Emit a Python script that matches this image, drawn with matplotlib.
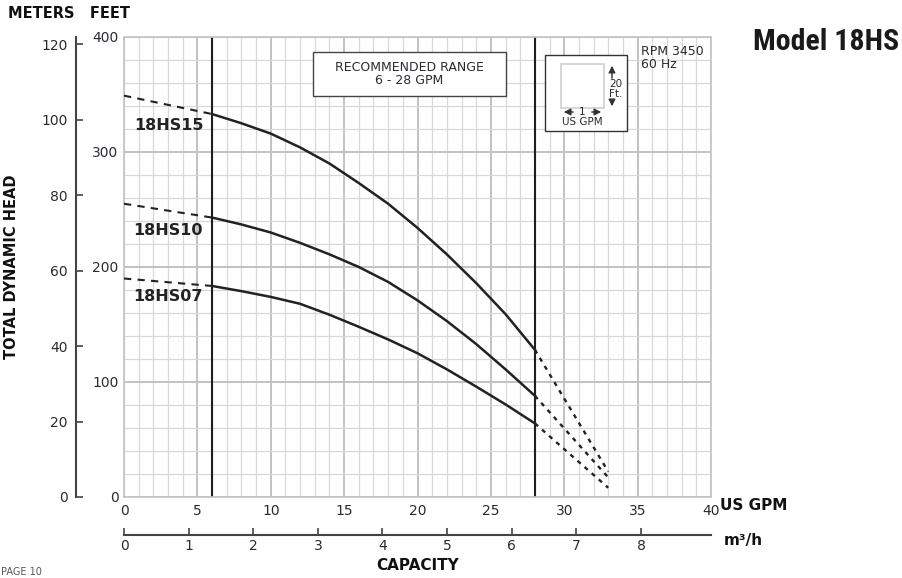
import matplotlib
matplotlib.use("Agg")
import matplotlib.pyplot as plt
from matplotlib.patches import Rectangle

# flow points along the recommended range (US GPM)
gpm = [6, 8, 10, 12, 14, 16, 18, 20, 22, 24, 26, 28]
# head in feet
hs15 = [333, 325, 316, 304, 290, 273, 255, 234, 211, 186, 159, 128]
hs10 = [243, 237, 230, 221, 211, 200, 187, 171, 153, 133, 111, 88]
hs07 = [183.5, 179, 174, 168, 158.5, 148, 137, 125, 111, 96, 80.5, 64]

# dashed extensions outside the range: (gpm, feet)
left_ext = {"18HS15": ([0, 6], [349, 333]),
            "18HS10": ([0, 6], [255, 243]),
            "18HS07": ([0, 6], [190, 183.5])}
right_ext = {"18HS15": ([28, 33], [128, 22]),
             "18HS10": ([28, 33], [88, 17]),
             "18HS07": ([28, 33], [64, 8])}

labels = ["18HS15", "18HS10", "18HS07"]
label_pos = [(0.7, 323), (0.6, 232), (0.6, 174)]

gpm_ticks = [0, 5, 10, 15, 20, 25, 30, 35, 40]
feet_ticks = [0, 100, 200, 300, 400]
meter_ticks = [0, 20, 40, 60, 80, 100, 120]
m3h_ticks = [0, 1, 2, 3, 4, 5, 6, 7, 8]
range_lines = [6, 28]

TXT = "#2a2a33"
FT_TO_M = 0.3048
GPM_TO_M3H = 0.2271

fig = plt.figure(figsize=(9.02, 5.78), dpi=100)
ax = fig.add_axes([124 / 902, 1 - 497 / 578, 587 / 902, 460 / 578])
ax.set_xlim(0, 40)
ax.set_ylim(0, 400)

# grid: minor every 1 gpm / 20 ft, major every 5 gpm / 100 ft
for x in range(0, 41):
    major = x % 5 == 0
    ax.axvline(x, color="#c2c2c2" if major else "#d8d8d8", lw=1.4 if major else 0.9, zorder=0)
for y in range(0, 401, 20):
    major = y % 100 == 0
    ax.axhline(y, color="#c2c2c2" if major else "#d8d8d8", lw=1.4 if major else 0.9, zorder=0)
for s in ax.spines.values():
    s.set_color("#c4c4c4")
    s.set_linewidth(1.2)

for x in range_lines:
    ax.axvline(x, color="#1e1e1e", lw=1.5, zorder=2)

for name, ys in zip(labels, [hs15, hs10, hs07]):
    ax.plot(gpm, ys, color="#222222", lw=1.8, zorder=3)
    lx, ly = left_ext[name]
    ax.plot(lx, ly, color="#222222", lw=1.5, ls=(0, (3.5, 3)), zorder=3)
    rx, ry = right_ext[name]
    ax.plot(rx, ry, color="#222222", lw=1.7, ls=(0, (1.8, 2.2)), zorder=3)

for name, (x, y) in zip(labels, label_pos):
    ax.text(x, y, name, fontsize=11.5, fontweight="bold", color="#222222",
            va="center", ha="left", zorder=4)

ax.set_xticks(gpm_ticks)
ax.set_yticks(feet_ticks)
ax.tick_params(length=0, labelsize=10, colors=TXT, pad=5)
ax.tick_params(axis="y", pad=4)

# recommended range box
ax.add_patch(Rectangle((189 / 587, 1 - 59 / 460), 193 / 587, 44 / 460, transform=ax.transAxes,
                       fc="white", ec="#444444", lw=1.0, zorder=5))
ax.text(285.5 / 587, 1 - 37 / 460, "RECOMMENDED RANGE\n6 - 28 GPM", transform=ax.transAxes,
        ha="center", va="center", fontsize=9, color=TXT, linespacing=1.0, zorder=6)

# scale legend box
ax.add_patch(Rectangle((421 / 587, 1 - 94 / 460), 82 / 587, 76 / 460, transform=ax.transAxes,
                       fc="white", ec="#333333", lw=1.0, zorder=5))
ax.add_patch(Rectangle((437 / 587, 1 - 71 / 460), 43 / 587, 44 / 460, transform=ax.transAxes,
                       fc="white", ec="#cfcfcf", lw=1.2, zorder=6))
ax.annotate("", xy=(488 / 587, 1 - 26 / 460), xytext=(488 / 587, 1 - 44 / 460),
            xycoords="axes fraction", arrowprops=dict(arrowstyle="-|>", color="#333", lw=1), zorder=6)
ax.annotate("", xy=(488 / 587, 1 - 72 / 460), xytext=(488 / 587, 1 - 60 / 460),
            xycoords="axes fraction", arrowprops=dict(arrowstyle="-|>", color="#333", lw=1), zorder=6)
ax.text(492 / 587, 1 - 52 / 460, "20\nFt.", transform=ax.transAxes, fontsize=7.5,
        color=TXT, ha="center", va="center", linespacing=0.95, zorder=7)
ax.annotate("", xy=(437 / 587, 1 - 75 / 460), xytext=(452 / 587, 1 - 75 / 460),
            xycoords="axes fraction", arrowprops=dict(arrowstyle="-|>", color="#333", lw=1), zorder=6)
ax.annotate("", xy=(480 / 587, 1 - 75 / 460), xytext=(465 / 587, 1 - 75 / 460),
            xycoords="axes fraction", arrowprops=dict(arrowstyle="-|>", color="#333", lw=1), zorder=6)
ax.text(458.5 / 587, 1 - 75 / 460, "1", transform=ax.transAxes, fontsize=7.5,
        color=TXT, ha="center", va="center", zorder=7)
ax.text(458.5 / 587, 1 - 85 / 460, "US GPM", transform=ax.transAxes, fontsize=7.5,
        color=TXT, ha="center", va="center", zorder=7)

ax.text(517 / 587, 1 - 21 / 460, "RPM 3450\n60 Hz", transform=ax.transAxes, fontsize=9,
        color=TXT, ha="left", va="center", linespacing=1.0, zorder=5)

# meters axis on the far left
axm = ax.twinx()
axm.set_ylim(0, 400 * FT_TO_M)
axm.yaxis.set_ticks_position("left")
axm.spines["left"].set_position(("outward", 34.5))
axm.spines["left"].set_color("#444444")
axm.spines["left"].set_linewidth(1.5)
for k in ["right", "top", "bottom"]:
    axm.spines[k].set_visible(False)
axm.set_yticks(meter_ticks)
axm.tick_params(axis="y", direction="in", length=5, width=1.2, color="#444444",
                labelsize=10, labelcolor=TXT, pad=6)

# m3/h axis below
axq = ax.twiny()
axq.set_xlim(0, 40 * GPM_TO_M3H)
axq.xaxis.set_ticks_position("bottom")
axq.xaxis.set_label_position("bottom")
axq.spines["bottom"].set_position(("outward", 27.5))
axq.spines["bottom"].set_color("#444444")
axq.spines["bottom"].set_linewidth(1.5)
for k in ["left", "right", "top"]:
    axq.spines[k].set_visible(False)
axq.set_xticks(m3h_ticks)
axq.tick_params(axis="x", direction="in", length=5, width=1.2, color="#444444",
                labelsize=10, labelcolor=TXT, pad=3)

# figure texts
fig.text(8 / 902, 1 - 14 / 578, "METERS   FEET", fontsize=10.5, fontweight="bold", color="#111", va="center")
fig.text(12 / 902, 1 - 267 / 578, "TOTAL DYNAMIC HEAD", fontsize=10.5, fontweight="bold",
         color="#111", rotation=90, ha="center", va="center")
fig.text(720 / 902, 1 - 506 / 578, "US GPM", fontsize=11, fontweight="bold", color="#111", va="center")
fig.text(724 / 902, 1 - 541 / 578, "m³/h", fontsize=11, fontweight="bold", color="#111", va="center")
fig.text(418 / 902, 1 - 566 / 578, "CAPACITY", fontsize=11, fontweight="bold", color="#111",
         ha="center", va="center")
fig.text(899 / 902, 1 - 42 / 578, "Model 18HS", fontsize=21.5, fontweight="bold", color="#1a1a1a",
         ha="right", va="center", fontstretch="condensed",
         family=["Roboto Condensed", "Liberation Sans Narrow", "Roboto", "DejaVu Sans"])
fig.text(1 / 902, 1 - 572 / 578, "PAGE 10", fontsize=7, color="#555", ha="left", va="center")

fig.savefig("out.png", dpi=100)
